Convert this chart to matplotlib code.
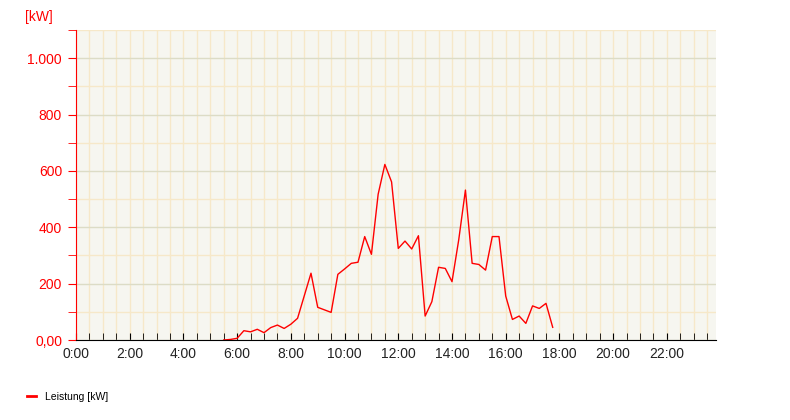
import matplotlib
matplotlib.use("Agg")
import matplotlib.pyplot as plt
from matplotlib.ticker import MultipleLocator, FuncFormatter

plt.rcParams['font.family'] = ['Liberation Sans', 'DejaVu Sans']

# 15 minute values from 5:30 to 17:45
times = ["5:30", "5:45", "6:00", "6:15", "6:30", "6:45", "7:00", "7:15", "7:30", "7:45",
         "8:00", "8:15", "8:30", "8:45", "9:00", "9:15", "9:30", "9:45", "10:00", "10:15",
         "10:30", "10:45", "11:00", "11:15", "11:30", "11:45", "12:00", "12:15", "12:30", "12:45",
         "13:00", "13:15", "13:30", "13:45", "14:00", "14:15", "14:30", "14:45", "15:00", "15:15",
         "15:30", "15:45", "16:00", "16:15", "16:30", "16:45", "17:00", "17:15", "17:30", "17:45"]
leistung = [0, 2, 6, 33, 29, 38, 26, 44, 53, 41,
            56, 77, 157, 237, 116, 107, 98, 233, 252, 272,
            276, 367, 304, 517, 623, 561, 325, 351, 323, 370,
            85, 136, 258, 254, 207, 355, 532, 272, 268, 248,
            367, 367, 156, 73, 85, 59, 121, 112, 130, 45]

hours = [int(t.split(":")[0]) + int(t.split(":")[1]) / 60 for t in times]

fig = plt.figure(figsize=(7.9, 4.2), dpi=100)
ax = fig.add_axes([76/790, 80/420, 640/790, 310/420])
ax.set_facecolor('#f6f6f0')

ax.set_xlim(0, 23.83)
ax.set_ylim(0, 1100)

# grid
ax.xaxis.set_major_locator(MultipleLocator(2))
ax.xaxis.set_minor_locator(MultipleLocator(0.5))
ax.yaxis.set_major_locator(MultipleLocator(200))
ax.yaxis.set_minor_locator(MultipleLocator(100))
ax.grid(True, which='both', axis='x', color='#f6e8c9', lw=1)
ax.grid(True, which='minor', axis='y', color='#f6e8c9', lw=1)
ax.grid(True, which='major', axis='y', color='#dcdcc6', lw=1)
ax.set_axisbelow(True)

ax.plot(hours, leistung, color='#ff0000', lw=1, label='Leistung [kW]')

for s in ['top', 'right']:
    ax.spines[s].set_visible(False)
ax.spines['left'].set_color('#ff0000')
ax.spines['bottom'].set_color('black')

ax.xaxis.set_major_formatter(FuncFormatter(lambda v, p: "%d:00" % int(round(v))))
ax.yaxis.set_major_formatter(FuncFormatter(
    lambda v, p: "0,00" if v == 0 else ("{:,.0f}".format(v).replace(",", ".") if v < 1100 else "")))

ax.tick_params(axis='x', which='both', direction='in', length=5, color='black',
               labelsize=10, labelcolor='#222222', pad=5)
ax.tick_params(axis='y', which='both', direction='out', length=6, color='#ff0000',
               labelsize=10, labelcolor='#ff0000', pad=4)

fig.text(25/790, 1 - 17/420, "[kW]", color='#ff0000', fontsize=10, va='center', ha='left')

leg = fig.legend(loc='center left', bbox_to_anchor=(27/790, 1 - 397/420), frameon=False,
                 fontsize=7.5, handlelength=0.85, handletextpad=0.9, borderaxespad=0,
                 borderpad=0)
for l in leg.get_lines():
    l.set_linewidth(2)

fig.savefig("out.png", dpi=100)
